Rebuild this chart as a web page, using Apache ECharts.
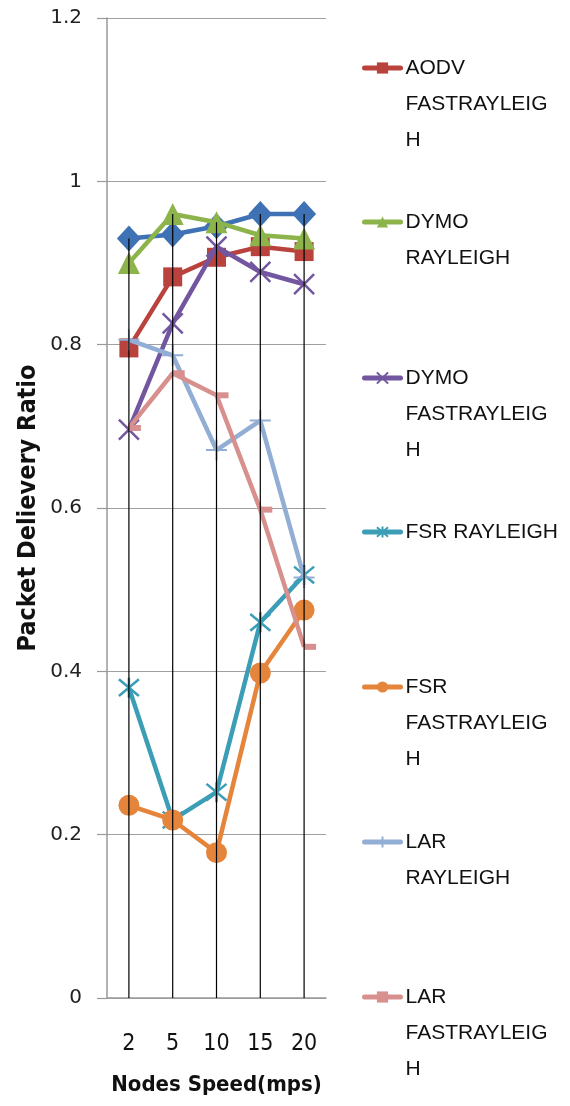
<!DOCTYPE html>
<html>
<head>
<meta charset="utf-8">
<script src="https://cdn.jsdelivr.net/npm/echarts@6/dist/echarts.min.js"></script>
<style>
html, body { margin: 0; padding: 0; background: #fff; }
#chart { width: 570px; height: 1106px; }
</style>
</head>
<body>
<div id="chart"></div>
<script>
// node speeds (mps) on the x axis
var speeds = ['2', '5', '10', '15', '20'];

// packet delivery ratio per protocol / fading model
var aodvRayleigh = [0.93, 0.935, 0.945, 0.96, 0.96];
var aodvFast = [0.796, 0.883, 0.907, 0.92, 0.914];
var dymoRayleigh = [0.90, 0.96, 0.95, 0.934, 0.93];
var dymoFast = [0.696, 0.826, 0.92, 0.889, 0.874];
var fsrRayleigh = [0.38, 0.218, 0.252, 0.46, 0.518];
var fsrFast = [0.236, 0.218, 0.178, 0.398, 0.475];
var larRayleigh = [0.806, 0.787, 0.671, 0.707, 0.515];
var larFast = [0.698, 0.765, 0.738, 0.598, 0.43];

var seriesNames = ['AODV RAYLEIGH', 'AODV FASTRAYLEIGH', 'DYMO RAYLEIGH', 'DYMO FASTRAYLEIGH',
  'FSR RAYLEIGH', 'FSR FASTRAYLEIGH', 'LAR RAYLEIGH', 'LAR FASTRAYLEIGH'];
// wrapped the way the legend box wraps them
var legendLabels = ['AODV RAYLEIGH', 'AODV\nFASTRAYLEIG\nH', 'DYMO\nRAYLEIGH', 'DYMO\nFASTRAYLEIG\nH',
  'FSR RAYLEIGH', 'FSR\nFASTRAYLEIG\nH', 'LAR\nRAYLEIGH', 'LAR\nFASTRAYLEIG\nH'];

var allData = [aodvRayleigh, aodvFast, dymoRayleigh, dymoFast, fsrRayleigh, fsrFast, larRayleigh, larFast];
var colors = ['#3f72b4', '#b9423d', '#8db44b', '#7356a0', '#3c9db6', '#e5843b', '#93aed5', '#d7908d'];

var crossPath = 'path://M0,0L20,20M20,0L0,20';
var starPath = 'path://M0,0L20,20M20,0L0,20M10,-2L10,22';
var plusPath = 'path://M0,10L20,10M10,0L10,20';

var markers = [
  { symbol: 'diamond', size: [24, 26], border: 0 },
  { symbol: 'rect', size: 19, border: 0 },
  { symbol: 'triangle', size: [22, 22], border: 0 },
  { symbol: crossPath, size: 20, border: 2.5 },
  { symbol: starPath, size: 20, border: 2.5 },
  { symbol: 'circle', size: 21, border: 0 },
  { symbol: plusPath, size: 21, border: 2 },
  { symbol: 'rect', size: [12, 6], border: 0, offset: [6, 0] }
];

var narrowFont = "'Liberation Sans Narrow', 'DejaVu Sans Condensed', 'Liberation Sans', sans-serif";

var chart = echarts.init(document.getElementById('chart'));

var series = allData.map(function (d, i) {
  var m = markers[i];
  return {
    name: seriesNames[i],
    type: 'line',
    data: d,
    symbol: m.symbol,
    symbolSize: m.size,
    symbolOffset: m.offset || [0, 0],
    showAllSymbol: true,
    lineStyle: { color: colors[i], width: 4.5 },
    itemStyle: { color: colors[i], borderColor: colors[i], borderWidth: m.border },
    emphasis: { disabled: true },
    z: 2 + i
  };
});

// drop lines: from the highest point of each category down to the axis
var dropData = speeds.map(function (s, i) {
  return [i, Math.max.apply(null, allData.map(function (d) { return d[i]; }))];
});
series.push({
  type: 'custom',
  data: dropData,
  z: 20,
  silent: true,
  renderItem: function (params, api) {
    var top = api.coord([api.value(0), api.value(1)]);
    var bottom = api.coord([api.value(0), 0]);
    return {
      type: 'line',
      shape: { x1: top[0], y1: top[1], x2: bottom[0], y2: bottom[1] },
      style: { stroke: '#000', lineWidth: 1.2 }
    };
  }
});

// one legend block per series; blank lines on top keep the icon on the first text line
var legendY = [68, 222, 378, 532, 687, 842, 997];
var lineH = 36;
var legends = legendY.map(function (y, k) {
  var idx = k + 1;
  var n = legendLabels[idx].split('\n').length;
  return {
    left: 362,
    top: y - (2 * n - 1) * lineH / 2,
    padding: 0,
    itemWidth: 36,
    itemHeight: 14,
    selectedMode: false,
    lineStyle: { width: 5, cap: 'round' },
    data: [seriesNames[idx]],
    formatter: function (name) {
      var label = legendLabels[seriesNames.indexOf(name)];
      var lines = label.split('\n').length;
      return new Array(lines).join('\n') + label;
    },
    textStyle: { fontSize: 21, lineHeight: lineH, color: '#111', fontFamily: "'Liberation Sans', sans-serif" }
  };
});

var option = {
  animation: false,
  backgroundColor: '#fff',
  grid: { left: 107, right: 244, top: 18, bottom: 108 },
  legend: legends,
  xAxis: {
    type: 'category',
    data: speeds,
    boundaryGap: true,
    name: 'Nodes Speed(mps)',
    nameLocation: 'middle',
    nameGap: 76,
    nameTextStyle: { fontSize: 22, fontWeight: 'bold', color: '#111', fontFamily: narrowFont },
    axisLine: { lineStyle: { color: '#999', width: 1.5 } },
    axisTick: { alignWithLabel: true, length: 10, lineStyle: { color: '#000', width: 1.2 } },
    axisLabel: { fontSize: 23, color: '#111', margin: 35, fontFamily: narrowFont },
    splitLine: { show: false }
  },
  yAxis: {
    type: 'value',
    min: 0,
    max: 1.2,
    interval: 0.2,
    name: 'Packet Delievery Ratio',
    nameLocation: 'middle',
    nameGap: 66,
    nameTextStyle: { fontSize: 25, fontWeight: 'bold', color: '#111', fontFamily: narrowFont },
    axisLine: { show: true, lineStyle: { color: '#999', width: 1.5 } },
    axisTick: { show: true, length: 10, lineStyle: { color: '#999', width: 1.2 } },
    axisLabel: { fontSize: 20, color: '#222', margin: 25, fontFamily: "'DejaVu Sans', sans-serif" },
    splitLine: { lineStyle: { color: '#a0a0a0', width: 1.2 } }
  },
  series: series
};

chart.setOption(option);
</script>
</body>
</html>
